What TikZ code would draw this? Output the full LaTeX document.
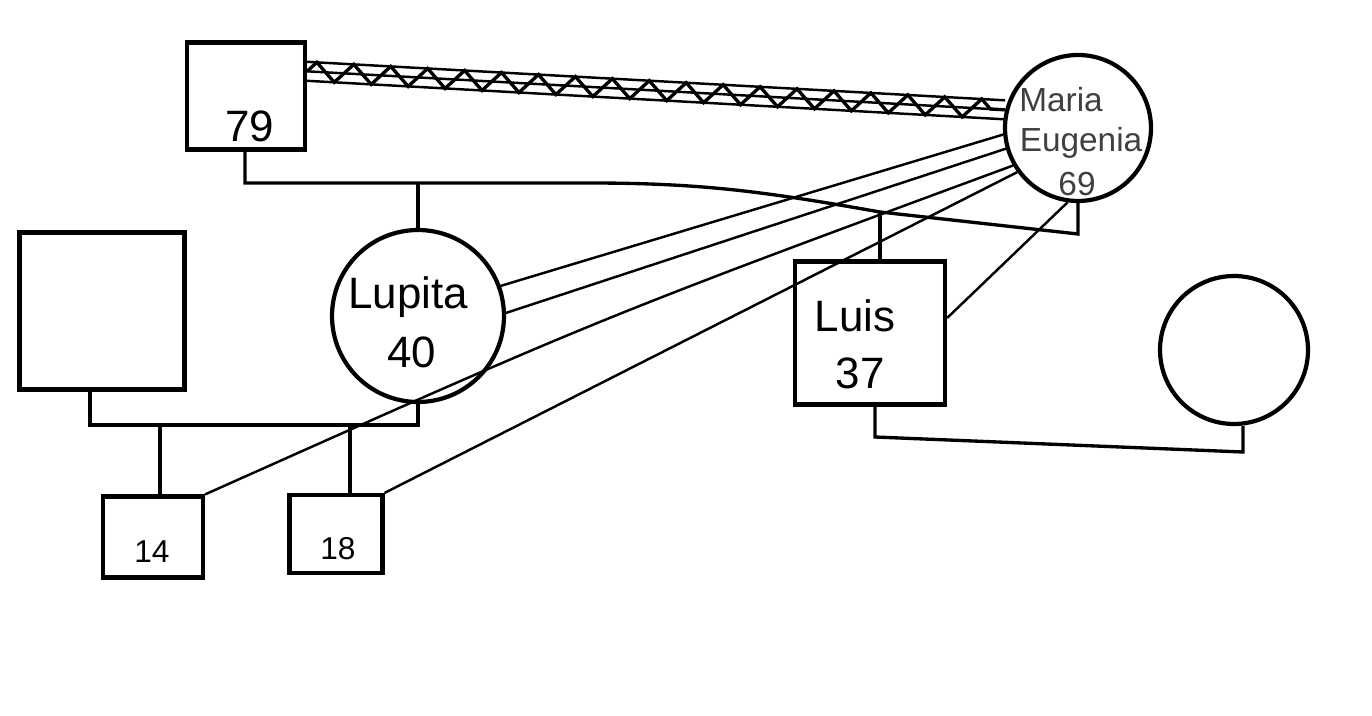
\documentclass[tikz,border=0pt]{standalone}
\usepackage{fontspec}
\setmainfont{Liberation Sans}
\usetikzlibrary{decorations.pathmorphing,calc}
\begin{document}
\begin{tikzpicture}[x=0.02cm,y=-0.02cm,
  person/.style={draw, line width=2.4pt, inner sep=0pt},
  sq/.style={person, rectangle},
  fem/.style={person, circle},
  rel/.style={line width=1.9pt},
  tie/.style={line width=1.4pt},
  lbl/.style={font=\fontsize{25}{30}\selectfont},
  mlbl/.style={font=\fontsize{19}{23}\selectfont, text=black!75},
  slbl/.style={font=\fontsize{18}{21}\selectfont},
]
\useasboundingbox[fill=white] (0,0) rectangle (1372,716);

% people
\node[sq, minimum width=2.36cm, minimum height=2.14cm] (p79) at (246,96) {};
\node[fem, minimum size=2.92cm] (me) at (1078,128) {};
\node[fem, minimum size=3.44cm] (lup) at (418,316) {};
\node[sq, minimum width=3.3cm, minimum height=3.14cm] (unk) at (102,311) {};
\node[sq, minimum width=3.0cm, minimum height=2.86cm] (luis) at (870,333) {};
\node[fem, minimum size=2.96cm] (rc) at (1234,350) {};
\node[sq, minimum width=2.0cm, minimum height=1.62cm] (b14) at (153,537) {};
\node[sq, minimum width=1.86cm, minimum height=1.56cm] (b18) at (336,534) {};

% labels
\node[lbl] (t79) at (250,126) {79};
\node[mlbl] (tm1) at (1061,100) {Maria};
\node[mlbl] (tm2) at (1081,143) {Eugenia};
\node[mlbl] (tm3) at (1077,184) {69};
\node[lbl] (tlup) at (408,297) {Lupita};
\node[lbl] (t40) at (412,352) {40};
\node[lbl] (tluis) at (855,316) {Luis};
\node[lbl] (t37) at (860,373) {37};
\node[slbl] (t14) at (152,552) {14};
\node[slbl] (t18) at (338,549) {18};

% fused-hostile relationship 79 -- Maria Eugenia
\coordinate (za) at (p79.22);
\coordinate (zb) at (me.166);
\draw[tie] ([yshift=0.19cm]za) -- ([yshift=0.19cm]zb);
\draw[tie] (za) -- (zb);
\draw[tie] ([yshift=-0.19cm]za) -- ([yshift=-0.19cm]zb);
\draw[rel, decorate, decoration={zigzag, segment length=0.74cm, amplitude=0.19cm}] (za) -- (zb);

% marriage 79 -- Maria Eugenia
\coordinate (m1) at (245,183);
\coordinate (c1) at (418,183);
\coordinate (m1b) at (590,183);
\coordinate (c2) at (880,212);
\coordinate (m2) at (1078,234);
\draw[rel] (p79.south -| m1) -- (m1) -- (c1) -- (m1b) to[out=0,in=170] (c2) -- (m2) -- (me.south);
\draw[rel] (c1) -- (lup.north);
\draw[rel] (c2) -- (c2 |- luis.north);

% marriage unknown -- Lupita
\coordinate (n1) at (90,425);
\coordinate (n2) at (418,425);
\draw[rel] (unk.south -| n1) -- (n1) -- (n2) -- (lup.south);
\coordinate (k1) at (160,425);
\coordinate (k2) at (350,425);
\draw[rel] (k1) -- (k1 |- b14.north);
\draw[rel] (k2) -- (k2 |- b18.north);

% marriage Luis -- partner
\coordinate (q1) at (875,437);
\coordinate (q2) at (1243,452);
\draw[rel] (luis.south -| q1) -- (q1) -- (q2) -- (q2 |- rc.south);

% relationship lines from Maria Eugenia
\coordinate (bend14) at (600,318);
\draw[tie] (me.185) -- (lup.20);
\draw[tie] (me.196) -- (lup.2);
\draw[tie] (me.210) .. controls (bend14) .. (b14.north east);
\draw[tie] (me.216) -- (b18.north east);
\draw[tie] (me.262) -- (luis.11);
\end{tikzpicture}
\end{document}
